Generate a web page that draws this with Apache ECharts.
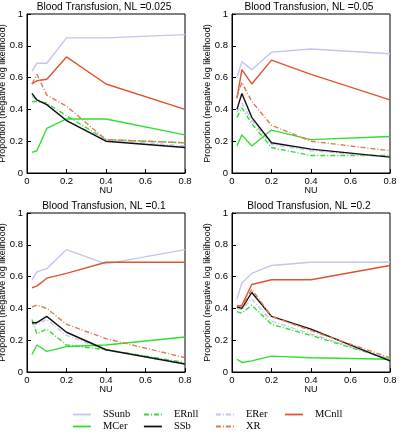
<!DOCTYPE html>
<html>
<head>
<meta charset="utf-8">
<script src="https://cdn.jsdelivr.net/npm/echarts@6/dist/echarts.min.js"></script>
<style>
  html, body { margin: 0; padding: 0; background: #fff; }
  #chart { width: 404px; height: 438px; }
</style>
</head>
<body>
<div id="chart"></div>
<script>
// NU values on x axis
const nu = [0.025, 0.05, 0.1, 0.2, 0.4, 0.8];
const panelTitles = ['Blood Transfusion, NL =0.025', 'Blood Transfusion, NL =0.05',
                     'Blood Transfusion, NL =0.1', 'Blood Transfusion, NL =0.2'];

// one array per method, one row per panel (NL = 0.025, 0.05, 0.1, 0.2)
const SSunb = [
    [0.64, 0.69, 0.69, 0.85, 0.85, 0.87],
    [0.60, 0.70, 0.65, 0.76, 0.78, 0.75],
    [0.58, 0.63, 0.65, 0.77, 0.68, 0.77],
    [0.46, 0.56, 0.62, 0.67, 0.69, 0.69]
];
const MCnll = [
    [0.56, 0.58, 0.59, 0.73, 0.56, 0.40],
    [0.47, 0.65, 0.56, 0.71, 0.62, 0.46],
    [0.53, 0.54, 0.59, 0.62, 0.69, 0.69],
    [0.41, 0.42, 0.55, 0.58, 0.58, 0.67]
];
const XR = [
    [0.56, 0.62, 0.49, 0.42, 0.21, 0.19],
    [0.48, 0.57, 0.45, 0.30, 0.20, 0.14],
    [0.41, 0.42, 0.40, 0.30, 0.21, 0.09],
    [0.42, 0.41, 0.52, 0.35, 0.26, 0.09]
];
const SSb = [
    [0.50, 0.46, 0.43, 0.33, 0.20, 0.16],
    [0.40, 0.50, 0.35, 0.19, 0.15, 0.10],
    [0.31, 0.31, 0.35, 0.25, 0.14, 0.05],
    [0.41, 0.40, 0.50, 0.35, 0.27, 0.07]
];
const ERer = [
    [0.48, 0.46, 0.43, 0.33, 0.21, 0.17],
    [0.38, 0.44, 0.33, 0.18, 0.14, 0.10],
    [0.30, 0.30, 0.33, 0.23, 0.14, 0.05],
    [0.40, 0.39, 0.46, 0.32, 0.24, 0.08]
];
const ERnll = [
    [0.45, 0.45, 0.44, 0.36, 0.21, 0.19],
    [0.35, 0.41, 0.31, 0.16, 0.11, 0.11],
    [0.33, 0.24, 0.27, 0.17, 0.14, 0.06],
    [0.38, 0.37, 0.42, 0.30, 0.23, 0.08]
];
const MCer = [
    [0.13, 0.14, 0.28, 0.34, 0.34, 0.24],
    [0.17, 0.24, 0.17, 0.27, 0.21, 0.23],
    [0.11, 0.17, 0.13, 0.16, 0.17, 0.22],
    [0.08, 0.06, 0.07, 0.10, 0.09, 0.08]
];

const dashDot = [5, 2, 1, 2];
const methods = [
    { name: 'SSunb', data: SSunb, color: '#c4c4ee', type: 'solid' },
    { name: 'ERnll', data: ERnll, color: '#33dd33', type: dashDot },
    { name: 'ERer',  data: ERer,  color: '#c4c4ee', type: dashDot },
    { name: 'MCnll', data: MCnll, color: '#dd5530', type: 'solid' },
    { name: 'MCer',  data: MCer,  color: '#33dd33', type: 'solid' },
    { name: 'SSb',   data: SSb,   color: '#111111', type: 'solid' },
    { name: 'XR',    data: XR,    color: '#e07850', type: dashDot }
];

const grids = [
    { left: 27,  top: 14,  width: 158, height: 159 },
    { left: 232, top: 14,  width: 158, height: 159 },
    { left: 27,  top: 213, width: 158, height: 159 },
    { left: 232, top: 213, width: 158, height: 159 }
];

const sans = 'Liberation Sans';
const option = {
    animation: false,
    backgroundColor: '#fff',
    title: [],
    grid: [],
    xAxis: [],
    yAxis: [],
    series: [],
    legend: []
};

grids.forEach((g, i) => {
    option.grid.push(Object.assign({
        show: true, borderColor: '#000', borderWidth: 1,
        containLabel: false, outerBoundsMode: 'none'
    }, g));
    option.title.push({
        text: panelTitles[i],
        left: g.left + g.width / 2 - 2,
        top: g.top - 12,
        textAlign: 'center',
        padding: 0,
        textStyle: { fontFamily: sans, fontSize: 10.2, fontWeight: 'normal', color: '#000' }
    });
    option.xAxis.push({
        type: 'value', gridIndex: i, min: 0, max: 0.8, interval: 0.2,
        name: 'NU', nameLocation: 'middle', nameGap: 13, nameMoveOverlap: false,
        nameTextStyle: { fontFamily: sans, fontSize: 9, color: '#000' },
        axisLine: { lineStyle: { color: '#000' } },
        axisTick: { inside: true, length: 4, lineStyle: { color: '#000' } },
        axisLabel: { fontFamily: sans, fontSize: 9.5, color: '#000', margin: 3,
                     formatter: v => String(+v.toFixed(1)) },
        splitLine: { show: false }
    });
    option.yAxis.push({
        type: 'value', gridIndex: i, min: 0, max: 1, interval: 0.2,
        name: 'Proportion (negative log likelihood)', nameLocation: 'middle', nameGap: 20,
        nameMoveOverlap: false,
        nameTextStyle: { fontFamily: sans, fontSize: 9, color: '#000' },
        axisLine: { show: true, lineStyle: { color: '#000' } },
        axisTick: { show: true, inside: true, length: 4, lineStyle: { color: '#000' } },
        axisLabel: { show: true, fontFamily: sans, fontSize: 9.5, color: '#000', margin: 4,
                     formatter: v => String(+v.toFixed(1)) },
        splitLine: { show: false }
    });
    methods.forEach(m => {
        option.series.push({
            name: m.name, type: 'line', xAxisIndex: i, yAxisIndex: i,
            data: nu.map((x, k) => [x, m.data[i][k]]),
            symbol: 'none',
            lineStyle: { color: m.color, width: 1.4, type: m.type },
            itemStyle: { color: m.color }
        });
    });
});

// legend: four columns of two rows
const legendCols = [['SSunb', 'MCer'], ['ERnll', 'SSb'], ['ERer', 'XR'], ['MCnll']];
const colLeft = [72, 143, 215, 284];
legendCols.forEach((names, c) => {
    option.legend.push({
        show: true,
        data: names,
        orient: 'vertical',
        left: colLeft[c],
        top: 409,
        height: 29,
        padding: 0,
        itemWidth: 18,
        itemHeight: 8,
        itemGap: 1,
        itemStyle: { opacity: 0 },
        lineStyle: { width: 1.8 },
        textStyle: { fontFamily: 'Liberation Serif', fontSize: 10.5, color: '#000',
                     padding: [0, 0, 0, 7] },
        selectedMode: false
    });
});

const chart = echarts.init(document.getElementById('chart'), null, { renderer: 'canvas' });
chart.setOption(option);
</script>
</body>
</html>
